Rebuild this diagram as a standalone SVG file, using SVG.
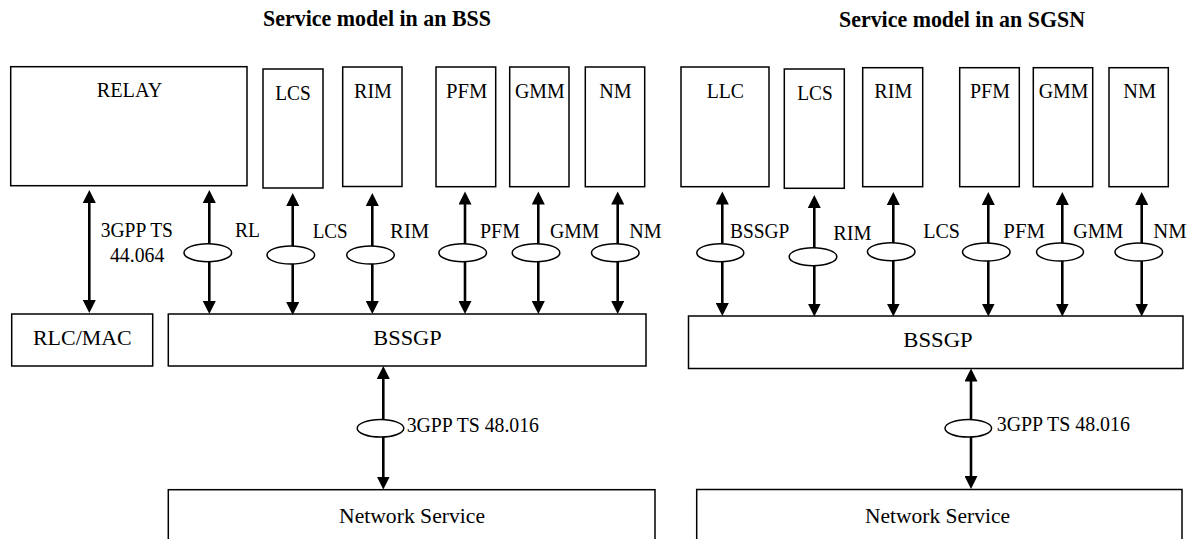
<svg xmlns="http://www.w3.org/2000/svg" width="1191" height="539" viewBox="0 0 1191 539">
<style>
rect.box{fill:#fff;stroke:#000;stroke-width:1.5}
text{font-family:"Liberation Serif","Times New Roman",serif;font-size:22px;fill:#000}
text.title{font-weight:bold;font-size:24px}
line.ar{stroke:#000;stroke-width:2.6;marker-start:url(#ah);marker-end:url(#ah)}
ellipse.sap{fill:#fff;stroke:#000;stroke-width:1.5}
</style>
<defs>
<marker id="ah" markerUnits="userSpaceOnUse" markerWidth="14" markerHeight="13" refX="1" refY="6.5" orient="auto-start-reverse">
<path d="M0,0 L13,6.5 L0,13 z" fill="#000"/>
</marker>
</defs>
<rect width="1191" height="539" fill="#fff"/>

<g id="titles">
<text class="title" x="263" y="26" textLength="228" lengthAdjust="spacingAndGlyphs">Service model in an BSS</text>
<text class="title" x="839" y="26.5" textLength="246" lengthAdjust="spacingAndGlyphs">Service model in an SGSN</text>
</g>

<g id="bss-relay"><rect class="box" x="10.7" y="66.7" width="236.3" height="119"/><text x="96.7" y="97.3" textLength="65.6" lengthAdjust="spacingAndGlyphs">RELAY</text></g>
<g id="bss-lcs"><rect class="box" x="263" y="69" width="60" height="119"/><text x="275.3" y="100" textLength="35.4" lengthAdjust="spacingAndGlyphs">LCS</text></g>
<g id="bss-rim"><rect class="box" x="342.7" y="67" width="59.3" height="119.5"/><text x="354" y="98.3" textLength="38" lengthAdjust="spacingAndGlyphs">RIM</text></g>
<g id="bss-pfm"><rect class="box" x="436" y="67" width="59.7" height="119.7"/><text x="446" y="98.3" textLength="41.3" lengthAdjust="spacingAndGlyphs">PFM</text></g>
<g id="bss-gmm"><rect class="box" x="509.7" y="67" width="59.3" height="119.7"/><text x="515" y="98.3" textLength="49.7" lengthAdjust="spacingAndGlyphs">GMM</text></g>
<g id="bss-nm"><rect class="box" x="585.3" y="67" width="59.4" height="119.7"/><text x="599.3" y="98.3" textLength="32.4" lengthAdjust="spacingAndGlyphs">NM</text></g>
<g id="bss-rlcmac"><rect class="box" x="11.7" y="314" width="141" height="52"/><text x="33" y="345" textLength="98.7" lengthAdjust="spacingAndGlyphs">RLC/MAC</text></g>
<g id="bss-bssgp"><rect class="box" x="168.3" y="314" width="477.7" height="52"/><text x="373.3" y="345" textLength="68.4" lengthAdjust="spacingAndGlyphs">BSSGP</text></g>
<g id="bss-ns"><rect class="box" x="168.3" y="489.7" width="486.7" height="60"/><text x="339" y="522.7" textLength="146" lengthAdjust="spacingAndGlyphs">Network Service</text></g>

<g id="sgsn-llc"><rect class="box" x="681" y="67" width="88" height="119.7"/><text x="706.7" y="98.3" textLength="37.3" lengthAdjust="spacingAndGlyphs">LLC</text></g>
<g id="sgsn-lcs"><rect class="box" x="784.3" y="69" width="60" height="119.3"/><text x="797.3" y="100" textLength="35.4" lengthAdjust="spacingAndGlyphs">LCS</text></g>
<g id="sgsn-rim"><rect class="box" x="862.7" y="67.7" width="60" height="119"/><text x="874.3" y="98.3" textLength="38" lengthAdjust="spacingAndGlyphs">RIM</text></g>
<g id="sgsn-pfm"><rect class="box" x="959.7" y="67.7" width="59.6" height="119"/><text x="970" y="98.3" textLength="40" lengthAdjust="spacingAndGlyphs">PFM</text></g>
<g id="sgsn-gmm"><rect class="box" x="1033.3" y="67.7" width="59.4" height="119"/><text x="1038.7" y="98.3" textLength="49.6" lengthAdjust="spacingAndGlyphs">GMM</text></g>
<g id="sgsn-nm"><rect class="box" x="1109" y="67.7" width="59.3" height="119"/><text x="1123.3" y="98.3" textLength="32.7" lengthAdjust="spacingAndGlyphs">NM</text></g>
<g id="sgsn-bssgp"><rect class="box" x="688.5" y="316" width="494.5" height="52.5"/><text x="903.3" y="346.7" textLength="69.4" lengthAdjust="spacingAndGlyphs">BSSGP</text></g>
<g id="sgsn-ns"><rect class="box" x="696.7" y="489.5" width="485.3" height="60"/><text x="865" y="522.7" textLength="145" lengthAdjust="spacingAndGlyphs">Network Service</text></g>

<g id="connectors">
<line class="ar" x1="89.3" y1="202" x2="89.3" y2="301"/>
<line class="ar" x1="209.3" y1="202" x2="209.3" y2="302"/>
<line class="ar" x1="292.7" y1="205" x2="292.7" y2="303"/>
<line class="ar" x1="372.3" y1="205" x2="372.3" y2="302"/>
<line class="ar" x1="465" y1="203.5" x2="465" y2="302"/>
<line class="ar" x1="538.3" y1="203.5" x2="538.3" y2="302"/>
<line class="ar" x1="617.7" y1="203.5" x2="617.7" y2="302"/>
<line class="ar" x1="383.3" y1="378" x2="383.3" y2="477.5"/>
<line class="ar" x1="722.3" y1="203.5" x2="722.3" y2="304"/>
<line class="ar" x1="814.3" y1="207" x2="814.3" y2="304.5"/>
<line class="ar" x1="893.3" y1="204" x2="893.3" y2="304.5"/>
<line class="ar" x1="988.3" y1="204" x2="988.3" y2="304.5"/>
<line class="ar" x1="1062.3" y1="204" x2="1062.3" y2="304.5"/>
<line class="ar" x1="1141.7" y1="204" x2="1141.7" y2="304.5"/>
<line class="ar" x1="971" y1="380.5" x2="971" y2="477"/>
<ellipse class="sap" cx="207.8" cy="252.7" rx="23.8" ry="9"/>
<ellipse class="sap" cx="290.8" cy="255" rx="23.8" ry="9"/>
<ellipse class="sap" cx="370.5" cy="255" rx="23.8" ry="9"/>
<ellipse class="sap" cx="462.7" cy="252.7" rx="23.8" ry="9"/>
<ellipse class="sap" cx="536" cy="252.7" rx="23.8" ry="9"/>
<ellipse class="sap" cx="615.3" cy="252.7" rx="23.8" ry="9"/>
<ellipse class="sap" cx="380.5" cy="428.3" rx="23.3" ry="8.7"/>
<ellipse class="sap" cx="720.3" cy="252.7" rx="23.5" ry="9"/>
<ellipse class="sap" cx="813" cy="256.7" rx="23.8" ry="9"/>
<ellipse class="sap" cx="891.2" cy="251.7" rx="23.8" ry="9"/>
<ellipse class="sap" cx="986.3" cy="252" rx="23.8" ry="9"/>
<ellipse class="sap" cx="1060" cy="252" rx="23.5" ry="9"/>
<ellipse class="sap" cx="1138.8" cy="252" rx="23.8" ry="9"/>
<ellipse class="sap" cx="968.3" cy="428.3" rx="23.3" ry="8.7"/>
<text x="100.7" y="236.7" textLength="72.3" lengthAdjust="spacingAndGlyphs">3GPP TS</text>
<text x="110" y="261.7" textLength="54.3" lengthAdjust="spacingAndGlyphs">44.064</text>
<text x="235" y="236.7" textLength="25" lengthAdjust="spacingAndGlyphs">RL</text>
<text x="312.7" y="238" textLength="35" lengthAdjust="spacingAndGlyphs">LCS</text>
<text x="390" y="238" textLength="39.3" lengthAdjust="spacingAndGlyphs">RIM</text>
<text x="480" y="238" textLength="40" lengthAdjust="spacingAndGlyphs">PFM</text>
<text x="550" y="238" textLength="49.3" lengthAdjust="spacingAndGlyphs">GMM</text>
<text x="629.3" y="238" textLength="32.4" lengthAdjust="spacingAndGlyphs">NM</text>
<text x="406.7" y="431.7" textLength="132.3" lengthAdjust="spacingAndGlyphs">3GPP TS 48.016</text>
<text x="730" y="238" textLength="59.3" lengthAdjust="spacingAndGlyphs">BSSGP</text>
<text x="833.3" y="240" textLength="38.4" lengthAdjust="spacingAndGlyphs">RIM</text>
<text x="923.3" y="238" textLength="36.7" lengthAdjust="spacingAndGlyphs">LCS</text>
<text x="1003.3" y="238" textLength="41.7" lengthAdjust="spacingAndGlyphs">PFM</text>
<text x="1073.3" y="238" textLength="50" lengthAdjust="spacingAndGlyphs">GMM</text>
<text x="1153.3" y="238" textLength="33.4" lengthAdjust="spacingAndGlyphs">NM</text>
<text x="996.7" y="431" textLength="133.3" lengthAdjust="spacingAndGlyphs">3GPP TS 48.016</text>
</g>
</svg>
